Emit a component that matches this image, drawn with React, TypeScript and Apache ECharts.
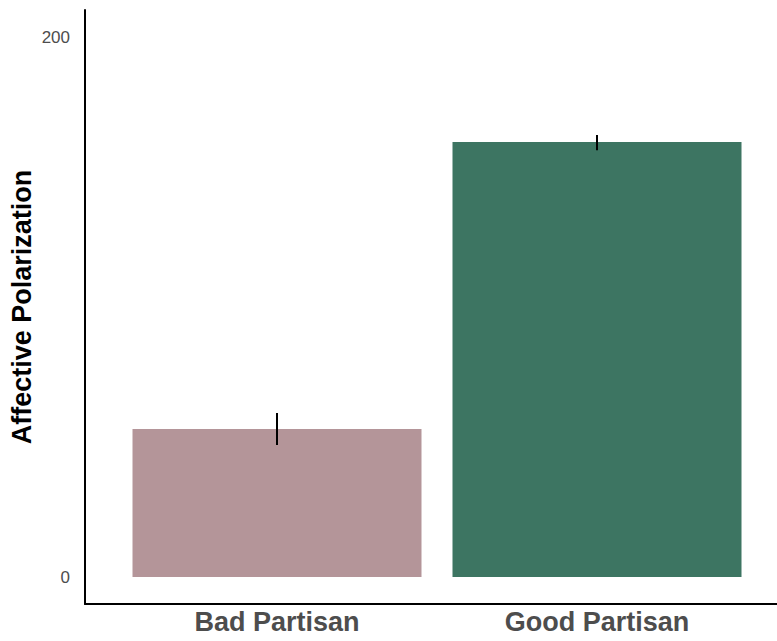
import React, { useEffect, useRef } from "react";
import * as echarts from "echarts";

const categories = ["Bad Partisan", "Good Partisan"];
const meanValues = [54.8, 161.1];
const lowerValues = [48.9, 158.1];
const upperValues = [60.7, 163.7];
const barColors = ["#b49599", "#3d7562"];
const yTickValues = [0, 200];

export default function App() {
  const ref = useRef<HTMLDivElement>(null);
  useEffect(() => {
    if (!ref.current) return;
    const chart = echarts.init(ref.current, undefined, { renderer: "svg" });
    const font = "'Liberation Sans', Arial, Helvetica, sans-serif";
    chart.setOption({
      animation: false,
      backgroundColor: "#ffffff",
      grid: {
        left: 85,
        top: 10,
        width: 704,
        height: 594,
        containLabel: false,
        outerBoundsMode: "none",
      },
      xAxis: {
        type: "value",
        min: -0.6,
        max: 1.6,
        axisLine: { show: true, onZero: false, lineStyle: { color: "#000", width: 2 } },
        axisTick: { show: false },
        splitLine: { show: false },
        axisLabel: {
          customValues: [0, 1],
          formatter: (v: number) => categories[Math.round(v)] ?? "",
          color: "#4d4d4d",
          fontSize: 27,
          fontWeight: "bold",
          fontFamily: font,
          margin: 4,
        },
      },
      yAxis: {
        type: "value",
        min: -10,
        max: 210,
        name: "Affective Polarization",
        nameLocation: "middle",
        nameGap: 50,
        nameMoveOverlap: false,
        nameTextStyle: { color: "#000", fontSize: 27, fontWeight: "bold", fontFamily: font },
        axisLine: { show: true, onZero: false, lineStyle: { color: "#000", width: 2 } },
        axisTick: { show: false },
        splitLine: { show: false },
        axisLabel: {
          customValues: yTickValues,
          color: "#4d4d4d",
          fontSize: 17,
          fontFamily: font,
          margin: 15,
        },
      },
      series: [
        {
          type: "bar",
          barWidth: 289,
          data: meanValues.map((v, i) => ({
            value: [i, v],
            itemStyle: { color: barColors[i] },
          })),
        },
        {
          type: "custom",
          data: categories.map((_, i) => [i, lowerValues[i], upperValues[i]]),
          renderItem: (params: any, api: any) => {
            const x = api.value(0);
            const p1 = api.coord([x, api.value(1)]);
            const p2 = api.coord([x, api.value(2)]);
            return {
              type: "line",
              shape: { x1: p1[0], y1: p1[1], x2: p2[0], y2: p2[1] },
              style: { stroke: "#000", lineWidth: 2 },
            };
          },
          z: 5,
        },
      ],
    });
    return () => chart.dispose();
  }, []);
  return <div ref={ref} style={{ width: 777, height: 641, position: "absolute", left: 0, top: 0 }} />;
}
